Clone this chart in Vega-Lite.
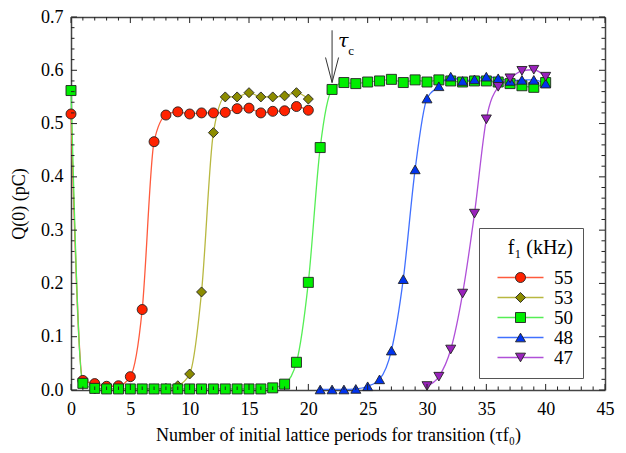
{
  "$schema": "https://vega.github.io/schema/vega-lite/v6.json",
  "width": 534,
  "height": 373,
  "autosize": {"type": "none"},
  "padding": {"left": 71, "top": 17, "right": 21, "bottom": 63},
  "config": {
    "view": {"stroke": null},
    "font": "Liberation Serif",
    "axis": {
      "labelFont": "Liberation Serif", "titleFont": "Liberation Serif",
      "labelFontSize": 18, "titleFontSize": 18, "titleFontWeight": "normal",
      "labelColor": "black", "titleColor": "black",
      "domainColor": "#444", "domainWidth": 1.5,
      "grid": false, "labelOverlap": false, "labelFlush": false, "labelBound": false
    },
    "legend": {"labelFont": "Liberation Serif, Times New Roman, serif", "titleFont": "Liberation Serif, Times New Roman, serif"}
  },
  "datasets": {
    "pts": [
      {"f1": "55", "x": 0, "y": 0.518}, {"f1": "55", "x": 1, "y": 0.018}, {"f1": "55", "x": 2, "y": 0.012},
      {"f1": "55", "x": 3, "y": 0.007}, {"f1": "55", "x": 4, "y": 0.008}, {"f1": "55", "x": 5, "y": 0.025},
      {"f1": "55", "x": 6, "y": 0.151}, {"f1": "55", "x": 7, "y": 0.466}, {"f1": "55", "x": 8, "y": 0.516},
      {"f1": "55", "x": 9, "y": 0.522}, {"f1": "55", "x": 10, "y": 0.518}, {"f1": "55", "x": 11, "y": 0.52},
      {"f1": "55", "x": 12, "y": 0.52}, {"f1": "55", "x": 13, "y": 0.521}, {"f1": "55", "x": 14, "y": 0.528},
      {"f1": "55", "x": 15, "y": 0.529}, {"f1": "55", "x": 16, "y": 0.52}, {"f1": "55", "x": 17, "y": 0.523},
      {"f1": "55", "x": 18, "y": 0.524}, {"f1": "55", "x": 19, "y": 0.532}, {"f1": "55", "x": 20, "y": 0.525},
      {"f1": "53", "x": 2, "y": 0.002}, {"f1": "53", "x": 3, "y": 0.002}, {"f1": "53", "x": 4, "y": 0.002},
      {"f1": "53", "x": 5, "y": 0.002}, {"f1": "53", "x": 6, "y": 0.002}, {"f1": "53", "x": 7, "y": 0.002},
      {"f1": "53", "x": 8, "y": 0.003}, {"f1": "53", "x": 9, "y": 0.008}, {"f1": "53", "x": 10, "y": 0.03},
      {"f1": "53", "x": 11, "y": 0.184}, {"f1": "53", "x": 12, "y": 0.483}, {"f1": "53", "x": 13, "y": 0.55},
      {"f1": "53", "x": 14, "y": 0.55}, {"f1": "53", "x": 15, "y": 0.558}, {"f1": "53", "x": 16, "y": 0.55},
      {"f1": "53", "x": 17, "y": 0.55}, {"f1": "53", "x": 18, "y": 0.552}, {"f1": "53", "x": 19, "y": 0.558},
      {"f1": "53", "x": 20, "y": 0.546},
      {"f1": "50", "x": 0, "y": 0.562}, {"f1": "50", "x": 1, "y": 0.0125}, {"f1": "50", "x": 2, "y": 0.003},
      {"f1": "50", "x": 3, "y": 0.002}, {"f1": "50", "x": 4, "y": 0.002}, {"f1": "50", "x": 5, "y": 0.002},
      {"f1": "50", "x": 6, "y": 0.002}, {"f1": "50", "x": 7, "y": 0.002}, {"f1": "50", "x": 8, "y": 0.002},
      {"f1": "50", "x": 9, "y": 0.002}, {"f1": "50", "x": 10, "y": 0.002}, {"f1": "50", "x": 11, "y": 0.002},
      {"f1": "50", "x": 12, "y": 0.002}, {"f1": "50", "x": 13, "y": 0.002}, {"f1": "50", "x": 14, "y": 0.002},
      {"f1": "50", "x": 15, "y": 0.002}, {"f1": "50", "x": 16, "y": 0.002}, {"f1": "50", "x": 17, "y": 0.004},
      {"f1": "50", "x": 18, "y": 0.011}, {"f1": "50", "x": 19, "y": 0.052}, {"f1": "50", "x": 20, "y": 0.202},
      {"f1": "50", "x": 21, "y": 0.455}, {"f1": "50", "x": 22, "y": 0.564}, {"f1": "50", "x": 23, "y": 0.577},
      {"f1": "50", "x": 24, "y": 0.575}, {"f1": "50", "x": 25, "y": 0.578}, {"f1": "50", "x": 26, "y": 0.58},
      {"f1": "50", "x": 27, "y": 0.583}, {"f1": "50", "x": 28, "y": 0.577}, {"f1": "50", "x": 29, "y": 0.582},
      {"f1": "50", "x": 30, "y": 0.578}, {"f1": "50", "x": 31, "y": 0.582}, {"f1": "50", "x": 32, "y": 0.58},
      {"f1": "50", "x": 33, "y": 0.578}, {"f1": "50", "x": 34, "y": 0.58}, {"f1": "50", "x": 35, "y": 0.58},
      {"f1": "50", "x": 36, "y": 0.578}, {"f1": "50", "x": 37, "y": 0.575}, {"f1": "50", "x": 38, "y": 0.571},
      {"f1": "50", "x": 39, "y": 0.568}, {"f1": "50", "x": 40, "y": 0.577},
      {"f1": "48", "x": 21, "y": 0.001}, {"f1": "48", "x": 22, "y": 0.001}, {"f1": "48", "x": 23, "y": 0.001},
      {"f1": "48", "x": 24, "y": 0.002}, {"f1": "48", "x": 25, "y": 0.007}, {"f1": "48", "x": 26, "y": 0.02},
      {"f1": "48", "x": 27, "y": 0.074}, {"f1": "48", "x": 28, "y": 0.208}, {"f1": "48", "x": 29, "y": 0.414},
      {"f1": "48", "x": 30, "y": 0.547}, {"f1": "48", "x": 31, "y": 0.57}, {"f1": "48", "x": 32, "y": 0.588},
      {"f1": "48", "x": 33, "y": 0.58}, {"f1": "48", "x": 34, "y": 0.583}, {"f1": "48", "x": 35, "y": 0.588},
      {"f1": "48", "x": 36, "y": 0.585}, {"f1": "48", "x": 37, "y": 0.58}, {"f1": "48", "x": 38, "y": 0.582},
      {"f1": "48", "x": 39, "y": 0.582}, {"f1": "48", "x": 40, "y": 0.575},
      {"f1": "47", "x": 30, "y": 0.0075}, {"f1": "47", "x": 31, "y": 0.025}, {"f1": "47", "x": 32, "y": 0.076},
      {"f1": "47", "x": 33, "y": 0.181}, {"f1": "47", "x": 34, "y": 0.331}, {"f1": "47", "x": 35, "y": 0.508},
      {"f1": "47", "x": 36, "y": 0.569}, {"f1": "47", "x": 37, "y": 0.585}, {"f1": "47", "x": 38, "y": 0.599},
      {"f1": "47", "x": 39, "y": 0.601}, {"f1": "47", "x": 40, "y": 0.588}
    ],
    "xt": [
      {"v": 0, "major": true}, {"v": 1, "major": false}, {"v": 2, "major": false}, {"v": 3, "major": false}, {"v": 4, "major": false},
      {"v": 5, "major": true}, {"v": 6, "major": false}, {"v": 7, "major": false}, {"v": 8, "major": false}, {"v": 9, "major": false},
      {"v": 10, "major": true}, {"v": 11, "major": false}, {"v": 12, "major": false}, {"v": 13, "major": false}, {"v": 14, "major": false},
      {"v": 15, "major": true}, {"v": 16, "major": false}, {"v": 17, "major": false}, {"v": 18, "major": false}, {"v": 19, "major": false},
      {"v": 20, "major": true}, {"v": 21, "major": false}, {"v": 22, "major": false}, {"v": 23, "major": false}, {"v": 24, "major": false},
      {"v": 25, "major": true}, {"v": 26, "major": false}, {"v": 27, "major": false}, {"v": 28, "major": false}, {"v": 29, "major": false},
      {"v": 30, "major": true}, {"v": 31, "major": false}, {"v": 32, "major": false}, {"v": 33, "major": false}, {"v": 34, "major": false},
      {"v": 35, "major": true}, {"v": 36, "major": false}, {"v": 37, "major": false}, {"v": 38, "major": false}, {"v": 39, "major": false},
      {"v": 40, "major": true}, {"v": 41, "major": false}, {"v": 42, "major": false}, {"v": 43, "major": false}, {"v": 44, "major": false},
      {"v": 45, "major": true}
    ],
    "yt": [
      {"v": 0, "major": true}, {"v": 0.02, "major": false}, {"v": 0.04, "major": false}, {"v": 0.06, "major": false}, {"v": 0.08, "major": false},
      {"v": 0.1, "major": true}, {"v": 0.12, "major": false}, {"v": 0.14, "major": false}, {"v": 0.16, "major": false}, {"v": 0.18, "major": false},
      {"v": 0.2, "major": true}, {"v": 0.22, "major": false}, {"v": 0.24, "major": false}, {"v": 0.26, "major": false}, {"v": 0.28, "major": false},
      {"v": 0.3, "major": true}, {"v": 0.32, "major": false}, {"v": 0.34, "major": false}, {"v": 0.36, "major": false}, {"v": 0.38, "major": false},
      {"v": 0.4, "major": true}, {"v": 0.42, "major": false}, {"v": 0.44, "major": false}, {"v": 0.46, "major": false}, {"v": 0.48, "major": false},
      {"v": 0.5, "major": true}, {"v": 0.52, "major": false}, {"v": 0.54, "major": false}, {"v": 0.56, "major": false}, {"v": 0.58, "major": false},
      {"v": 0.6, "major": true}, {"v": 0.62, "major": false}, {"v": 0.64, "major": false}, {"v": 0.66, "major": false}, {"v": 0.68, "major": false},
      {"v": 0.7, "major": true}
    ],
    "shaft": [{"x": 22, "y": 0.675, "y2": 0.577}],
    "wings": [
      {"x": 21.45, "y": 0.624, "x2": 22, "y2": 0.577},
      {"x": 22.55, "y": 0.624, "x2": 22, "y2": 0.577}
    ],
    "tau": [{"x": 22.95, "y": 0.6435, "t": "τ"}],
    "sub": [{"x": 23.6, "y": 0.629, "t": "c"}]
  },
  "resolve": {"axis": {"x": "independent", "y": "independent"}},
  "layer": [
    {
      "data": {"name": "pts"},
      "mark": {"type": "line", "interpolate": "monotone", "strokeWidth": 1.3},
      "encoding": {
        "x": {
          "field": "x", "type": "quantitative",
          "scale": {"domain": [0, 45], "nice": false, "zero": false},
          "axis": {
            "orient": "bottom",
            "values": [0, 5, 10, 15, 20, 25, 30, 35, 40, 45],
            "format": "d", "ticks": false,
            "labelPadding": 10,
            "title": "Number of initial lattice periods for transition (τf₀)",
            "titlePadding": 8
          }
        },
        "y": {
          "field": "y", "type": "quantitative",
          "scale": {"domain": [0, 0.7], "nice": false},
          "axis": {
            "orient": "left",
            "values": [0, 0.1, 0.2, 0.3, 0.4, 0.5, 0.6, 0.7],
            "format": ".1f", "ticks": false,
            "labelPadding": 8,
            "title": "Q(0) (pC)",
            "titlePadding": 12
          }
        },
        "stroke": {
          "field": "f1", "type": "nominal", "sort": "descending",
          "scale": {"range": ["#ff5a3c", "#b8b840", "#55ee55", "#4070ff", "#b050d8"]},
          "legend": {
            "orient": "none", "legendX": 408, "legendY": 211,
            "title": "f₁ (kHz)", "titleFont": "Liberation Serif, Times New Roman, serif", "titleFontSize": 20, "titleFontWeight": "normal",
            "titleOpacity": 0, "titleColor": "rgba(0,0,0,0)",
            "titleAnchor": "end", "titlePadding": 10,
            "padding": 10, "symbolType": "M-4.6,0L4.6,0", "symbolSize": 100,
            "symbolStrokeWidth": 1.5, "symbolOffset": 22, "labelOffset": 24,
            "labelFont": "Liberation Serif, Times New Roman, serif", "labelFontSize": 19, "labelOpacity": 0, "labelColor": "rgba(0,0,0,0)", "rowPadding": 0,
            "labelExpr": "datum.label + '      '",
            "strokeColor": "#555", "fillColor": "white",
            "zindex": 1
          }
        }
      }
    },
    {
      "data": {"name": "pts"},
      "mark": {"type": "point", "filled": true, "opacity": 1, "stroke": "#222", "strokeWidth": 0.9, "size": 100},
      "encoding": {
        "x": {"field": "x", "type": "quantitative", "axis": null},
        "y": {"field": "y", "type": "quantitative", "axis": null},
        "fill": {
          "field": "f1", "type": "nominal",
          "scale": {"domain": ["55", "53", "50", "48", "47"], "range": ["#ff2200", "#8c8c00", "#00ee00", "#0033ee", "#9922bb"]},
          "legend": {
            "orient": "none", "legendX": 408, "legendY": 211,
            "title": "f₁ (kHz)", "titleFont": "Liberation Serif, Times New Roman, serif", "titleFontSize": 20, "titleFontWeight": "normal", "titleColor": "black",
            "titleAnchor": "end", "titlePadding": 10,
            "padding": 10, "symbolSize": 100, "symbolStrokeColor": "#222", "symbolStrokeWidth": 0.9,
            "symbolOffset": 22, "labelOffset": 24,
            "labelFont": "Liberation Serif, Times New Roman, serif", "labelFontSize": 19, "labelColor": "black", "rowPadding": 0,
            "labelExpr": "datum.label + '      '",
            "zindex": 2
          }
        },
        "shape": {
          "field": "f1", "type": "nominal",
          "scale": {"domain": ["55", "53", "50", "48", "47"], "range": ["circle", "diamond", "square", "triangle-up", "triangle-down"]},
          "legend": {
            "orient": "none", "legendX": 408, "legendY": 211,
            "title": "f₁ (kHz)", "labelFont": "Liberation Serif, Times New Roman, serif", "titleFont": "Liberation Serif, Times New Roman, serif"
          }
        }
      }
    },
    {
      "data": {"name": "xt"},
      "transform": [{"filter": "datum.major"}],
      "mark": {"type": "rule", "color": "#222", "strokeWidth": 1},
      "encoding": {
        "x": {"field": "v", "type": "quantitative", "axis": {"orient": "top", "labels": false, "ticks": false, "title": null, "values": [0, 45]}},
        "y": {"datum": 0, "type": "quantitative", "axis": {"orient": "right", "labels": false, "ticks": false, "title": null, "values": [0, 0.7]}},
        "y2": {"datum": 0.0113}
      }
    },
    {
      "data": {"name": "xt"},
      "transform": [{"filter": "!datum.major"}],
      "mark": {"type": "rule", "color": "#222", "strokeWidth": 1},
      "encoding": {
        "x": {"field": "v", "type": "quantitative", "axis": null},
        "y": {"datum": 0, "type": "quantitative", "axis": null},
        "y2": {"datum": 0.0066}
      }
    },
    {
      "data": {"name": "xt"},
      "transform": [{"filter": "datum.major"}],
      "mark": {"type": "rule", "color": "#222", "strokeWidth": 1},
      "encoding": {
        "x": {"field": "v", "type": "quantitative", "axis": null},
        "y": {"datum": 0.7, "type": "quantitative", "axis": null},
        "y2": {"datum": 0.6887}
      }
    },
    {
      "data": {"name": "xt"},
      "transform": [{"filter": "!datum.major"}],
      "mark": {"type": "rule", "color": "#222", "strokeWidth": 1},
      "encoding": {
        "x": {"field": "v", "type": "quantitative", "axis": null},
        "y": {"datum": 0.7, "type": "quantitative", "axis": null},
        "y2": {"datum": 0.6934}
      }
    },
    {
      "data": {"name": "yt"},
      "transform": [{"filter": "datum.major"}],
      "mark": {"type": "rule", "color": "#222", "strokeWidth": 1},
      "encoding": {
        "y": {"field": "v", "type": "quantitative", "axis": null},
        "x": {"datum": 0, "type": "quantitative", "axis": null},
        "x2": {"datum": 0.506}
      }
    },
    {
      "data": {"name": "yt"},
      "transform": [{"filter": "!datum.major"}],
      "mark": {"type": "rule", "color": "#222", "strokeWidth": 1},
      "encoding": {
        "y": {"field": "v", "type": "quantitative", "axis": null},
        "x": {"datum": 0, "type": "quantitative", "axis": null},
        "x2": {"datum": 0.295}
      }
    },
    {
      "data": {"name": "yt"},
      "transform": [{"filter": "datum.major"}],
      "mark": {"type": "rule", "color": "#222", "strokeWidth": 1},
      "encoding": {
        "y": {"field": "v", "type": "quantitative", "axis": null},
        "x": {"datum": 45, "type": "quantitative", "axis": null},
        "x2": {"datum": 44.494}
      }
    },
    {
      "data": {"name": "yt"},
      "transform": [{"filter": "!datum.major"}],
      "mark": {"type": "rule", "color": "#222", "strokeWidth": 1},
      "encoding": {
        "y": {"field": "v", "type": "quantitative", "axis": null},
        "x": {"datum": 45, "type": "quantitative", "axis": null},
        "x2": {"datum": 44.705}
      }
    },
    {
      "data": {"name": "shaft"},
      "mark": {"type": "rule", "color": "#333", "strokeWidth": 1},
      "encoding": {
        "x": {"field": "x", "type": "quantitative", "axis": null},
        "y": {"field": "y", "type": "quantitative", "axis": null},
        "y2": {"field": "y2"}
      }
    },
    {
      "data": {"name": "wings"},
      "mark": {"type": "rule", "color": "#333", "strokeWidth": 1},
      "encoding": {
        "x": {"field": "x", "type": "quantitative", "axis": null},
        "y": {"field": "y", "type": "quantitative", "axis": null},
        "x2": {"field": "x2"},
        "y2": {"field": "y2"}
      }
    },
    {
      "data": {"name": "tau"},
      "mark": {"type": "text", "font": "DejaVu Serif", "fontStyle": "italic", "fontSize": 19, "align": "center", "baseline": "alphabetic", "color": "black"},
      "encoding": {
        "x": {"field": "x", "type": "quantitative", "axis": null},
        "y": {"field": "y", "type": "quantitative", "axis": null},
        "text": {"field": "t"}
      }
    },
    {
      "data": {"name": "sub"},
      "mark": {"type": "text", "font": "Liberation Serif", "fontSize": 13, "align": "center", "baseline": "alphabetic", "color": "black"},
      "encoding": {
        "x": {"field": "x", "type": "quantitative", "axis": null},
        "y": {"field": "y", "type": "quantitative", "axis": null},
        "text": {"field": "t"}
      }
    }
  ]
}
